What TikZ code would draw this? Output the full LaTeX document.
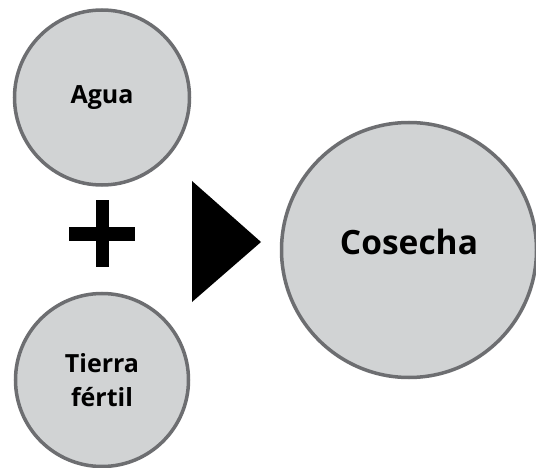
\documentclass[tikz,border=0pt]{standalone}
\usepackage{fontspec}
\setmainfont{Open Sans}
\definecolor{bubblefill}{HTML}{D1D3D4}
\definecolor{bubbleline}{HTML}{6D6E71}
\tikzset{
    bubble/.style={circle, draw=bubbleline, fill=bubblefill, line width=3.5pt, inner sep=0pt, align=center},
    smalltext/.style={font=\fontsize{25}{34}\selectfont\bfseries},
    bigtext/.style={font=\fontsize{33.5}{40}\selectfont\bfseries}
}
\begin{document}
\begin{tikzpicture}[x=1pt, y=-1pt]
        \useasboundingbox (0, 0) rectangle (536, 468);
        \node[bubble, smalltext, minimum size=175pt] (agua) at (102, 97.5) {Agua};
        \node[bubble, smalltext, minimum size=173pt] (tierra) at (102, 380) {Tierra\\fértil};
        \node[bubble, bigtext, minimum size=255pt, text depth=16pt] (cosecha) at (409, 250) {Cosecha};
        \fill (69, 227) rectangle (135, 241);
        \fill (96, 200) rectangle (109, 267);
        \fill (192, 181) -- (192, 302) -- (261, 242) -- cycle;
    \end{tikzpicture}
\end{document}
